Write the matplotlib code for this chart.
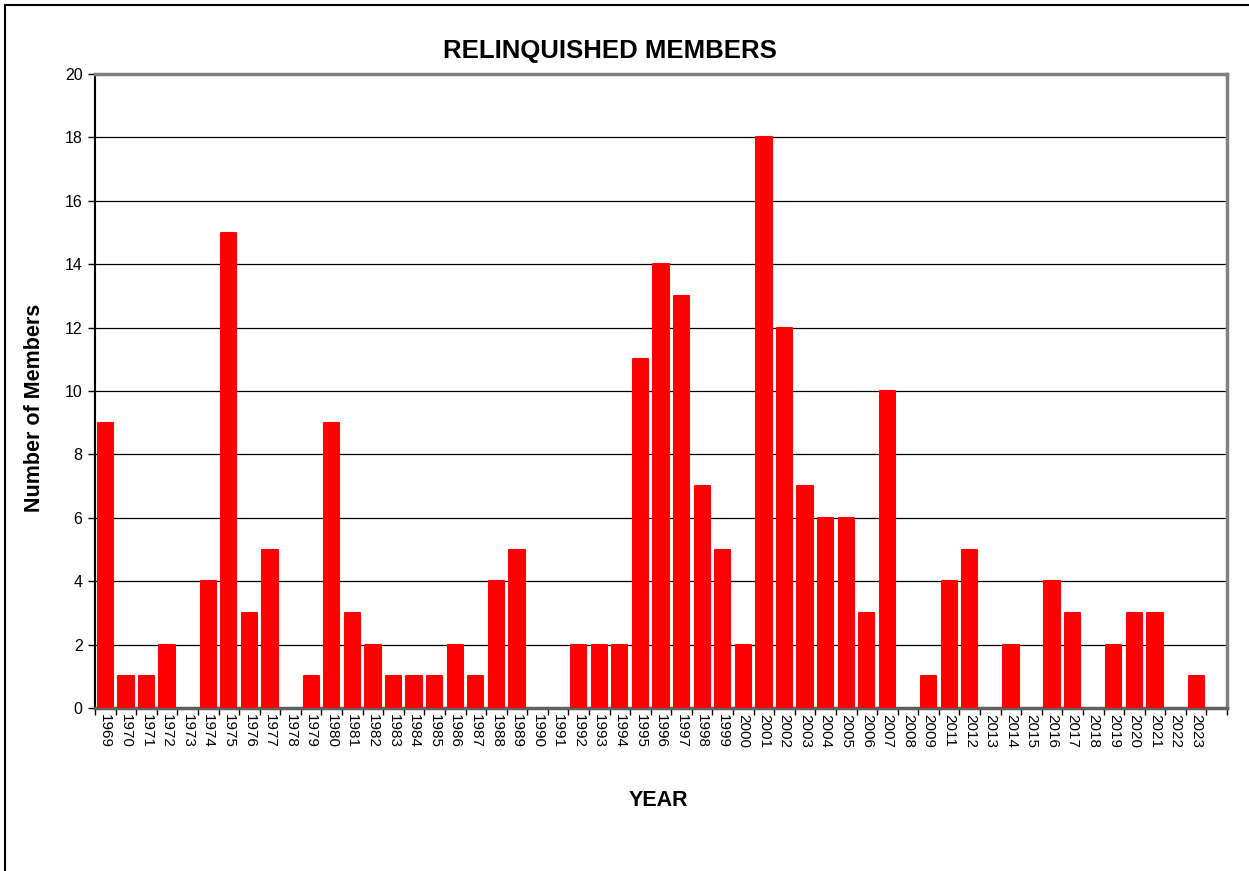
import matplotlib
matplotlib.use("Agg")
import matplotlib.pyplot as plt
from matplotlib.lines import Line2D

plt.rcParams['font.family'] = ['Liberation Sans', 'DejaVu Sans']

# data (2010 is not in the original category list)
years = [str(y) for y in range(1969, 2010)] + [str(y) for y in range(2011, 2024)] + [""]
members = [9, 1, 1, 2, 0, 4, 15, 3, 5, 0,
           1, 9, 3, 2, 1, 1, 1, 2, 1, 4,
           5, 0, 0, 2, 2, 2, 11, 14, 13, 7,
           5, 2, 18, 12, 7, 6, 6, 3, 10, 0,
           1, 4, 5, 0, 2, 0, 4, 3, 0, 2,
           3, 3, 0, 1, 0]

fig = plt.figure(figsize=(12.49, 8.71), dpi=100)
ax = fig.add_axes([0.0761, 0.1871, 0.9063, 0.7279])

x = list(range(len(years)))
bars = ax.bar(x, members, width=0.74, color='#ff0000', edgecolor='#ff0000',
              linewidth=1.5, zorder=3)
for b, v in zip(bars, members):
    b.set_joinstyle('round')
    if v == 0:
        b.set_visible(False)

ax.set_xlim(-0.5, len(years) - 0.5)
ax.set_ylim(0, 20)
ax.set_yticks(range(0, 21, 2))
ax.yaxis.grid(True, color='black', linewidth=0.9, zorder=0)

# ticks at category boundaries, labels at centres
ax.set_xticks([i - 0.5 for i in range(len(years) + 1)])
ax.set_xticklabels([])
ax.set_xticks(x, minor=True)
ax.set_xticklabels(years, minor=True, rotation=270, fontsize=11)
ax.tick_params(axis='x', which='minor', length=0, pad=4)
ax.tick_params(axis='x', which='major', length=5, width=1, direction='out')
ax.tick_params(axis='y', labelsize=11.5, length=5, width=1, pad=4)

for s in ['top', 'right']:
    ax.spines[s].set_color('#808080')
    ax.spines[s].set_linewidth(2.5)
ax.spines['left'].set_color('black')
ax.spines['left'].set_linewidth(1.5)
ax.spines['bottom'].set_color('#606060')
ax.spines['bottom'].set_linewidth(2.5)

fig.text(0.488, 0.942, "RELINQUISHED MEMBERS", ha='center', va='center',
         fontsize=18.5, fontweight='bold')
fig.text(0.028, 0.532, "Number of Members", ha='center', va='center',
         rotation=90, fontsize=15.5, fontweight='bold')
fig.text(0.527, 0.081, "YEAR", ha='center', va='center',
         fontsize=15.5, fontweight='bold')

# outer border (top and left only)
fig.add_artist(Line2D([0.004, 1.0], [0.994, 0.994], color='black', linewidth=1.5,
                      transform=fig.transFigure))
fig.add_artist(Line2D([0.004, 0.004], [0.0, 0.994], color='black', linewidth=1.5,
                      transform=fig.transFigure))

fig.savefig("out.png", dpi=100)
